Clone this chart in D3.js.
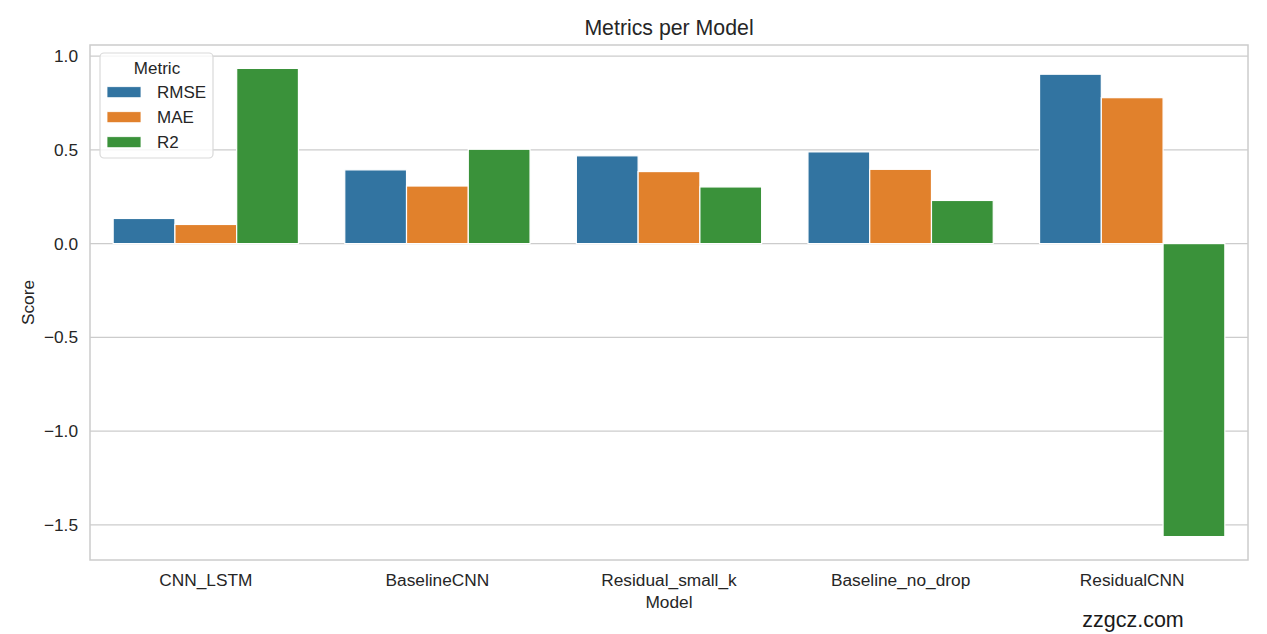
<!DOCTYPE html>
<html>
<head>
<meta charset="utf-8">
<script src="https://cdn.jsdelivr.net/npm/d3@7"></script>
<style>
  html, body { margin: 0; padding: 0; background: #fff; }
  svg { display: block; font-family: "Liberation Sans", Arial, Helvetica, sans-serif; }
</style>
</head>
<body>
<svg id="chart" width="1267" height="634"></svg>
<script>
// ---- data ----
const models = ["CNN_LSTM", "BaselineCNN", "Residual_small_k", "Baseline_no_drop", "ResidualCNN"];
const metrics = ["RMSE", "MAE", "R2"];
const rmse = [0.134, 0.393, 0.468, 0.489, 0.903];
const mae  = [0.102, 0.307, 0.384, 0.396, 0.778];
const r2   = [0.934, 0.503, 0.302, 0.230, -1.562];
const yTicks = [1.0, 0.5, 0.0, -0.5, -1.0, -1.5];
const colors = ["#3274a1", "#e1812c", "#3a923a"];

const seriesValues = { RMSE: rmse, MAE: mae, R2: r2 };
const rows = [];
models.forEach((m, i) => metrics.forEach(k => rows.push({ model: m, metric: k, value: seriesValues[k][i] })));

// ---- layout ----
const svg = d3.select("#chart");
const pL = 90, pR = 1248, pT = 45, pB = 560;
const textColor = "#262626";
const gridColor = "#cccccc";
const tickFont = "17.3px";

const allVals = rows.map(d => d.value).concat([0]);
const vmin = d3.min(allVals), vmax = d3.max(allVals);
const pad = (vmax - vmin) * 0.05;
const y = d3.scaleLinear().domain([vmin - pad, vmax + pad]).range([pB, pT]);
const x = d3.scaleBand().domain(models).range([pL, pR]).paddingInner(0).paddingOuter(0);
const bw = x.bandwidth();
const xs = d3.scaleBand().domain(metrics).range([0.1 * bw, 0.9 * bw]);
const color = d3.scaleOrdinal().domain(metrics).range(colors);

// grid
svg.append("g").selectAll("line").data(yTicks).join("line")
  .attr("x1", pL).attr("x2", pR)
  .attr("y1", d => y(d)).attr("y2", d => y(d))
  .attr("stroke", gridColor).attr("stroke-width", 1.3);

// bars
svg.append("g").selectAll("rect").data(rows).join("rect")
  .attr("x", d => x(d.model) + xs(d.metric))
  .attr("width", xs.bandwidth())
  .attr("y", d => Math.min(y(d.value), y(0)))
  .attr("height", d => Math.abs(y(d.value) - y(0)))
  .attr("fill", d => color(d.metric))
  .attr("stroke", "#ffffff").attr("stroke-width", 1.2);

// spines
svg.append("rect").attr("x", pL).attr("y", pT).attr("width", pR - pL).attr("height", pB - pT)
  .attr("fill", "none").attr("stroke", gridColor).attr("stroke-width", 1.5);

// y axis
const yAxis = d3.axisLeft(y).tickValues(yTicks).tickSize(0).tickPadding(12)
  .tickFormat(d => d3.format(".1f")(d).replace("-", "\u2212"));
const gy = svg.append("g").attr("transform", `translate(${pL},0)`).call(yAxis);
gy.select(".domain").remove();
gy.selectAll("text").attr("fill", textColor).style("font-size", tickFont)
  .style("font-family", "'Liberation Sans', Arial, sans-serif");

// x axis
const xAxis = d3.axisBottom(x).tickSize(0).tickPadding(14);
const gx = svg.append("g").attr("transform", `translate(0,${pB})`).call(xAxis);
gx.select(".domain").remove();
gx.selectAll("text").attr("fill", textColor).style("font-size", tickFont)
  .style("font-family", "'Liberation Sans', Arial, sans-serif");

// labels
svg.append("text").attr("x", (pL + pR) / 2).attr("y", 35).attr("text-anchor", "middle")
  .attr("fill", textColor).style("font-size", "21.3px").text("Metrics per Model");
svg.append("text").attr("x", (pL + pR) / 2).attr("y", 608).attr("text-anchor", "middle")
  .attr("fill", textColor).style("font-size", tickFont).text("Model");
svg.append("text").attr("transform", `translate(34,${(pT + pB) / 2}) rotate(-90)`)
  .attr("text-anchor", "middle").attr("fill", textColor).style("font-size", tickFont).text("Score");

// legend
const lg = svg.append("g");
lg.append("rect").attr("x", 100).attr("y", 53).attr("width", 113).attr("height", 105)
  .attr("rx", 4).attr("fill", "#ffffff").attr("fill-opacity", 0.8)
  .attr("stroke", "#d9d9d9").attr("stroke-width", 1.2);
lg.append("text").attr("x", 157).attr("y", 74).attr("text-anchor", "middle")
  .attr("fill", textColor).style("font-size", "17px").text("Metric");
const items = lg.selectAll("g.item").data(metrics).join("g").attr("class", "item")
  .attr("transform", (d, i) => `translate(0,${i * 25})`);
items.append("rect").attr("x", 107).attr("y", 86.7).attr("width", 34).attr("height", 11)
  .attr("fill", d => color(d)).attr("stroke", "#ffffff").attr("stroke-width", 0.8);
items.append("text").attr("x", 157).attr("y", 98.3).attr("fill", textColor)
  .style("font-size", "17px").text(d => d);

// watermark
svg.append("text").attr("x", 1133).attr("y", 627).attr("text-anchor", "middle")
  .attr("fill", "#1a1a1a").style("font-size", "21.5px").text("zzgcz.com");
</script>
</body>
</html>
